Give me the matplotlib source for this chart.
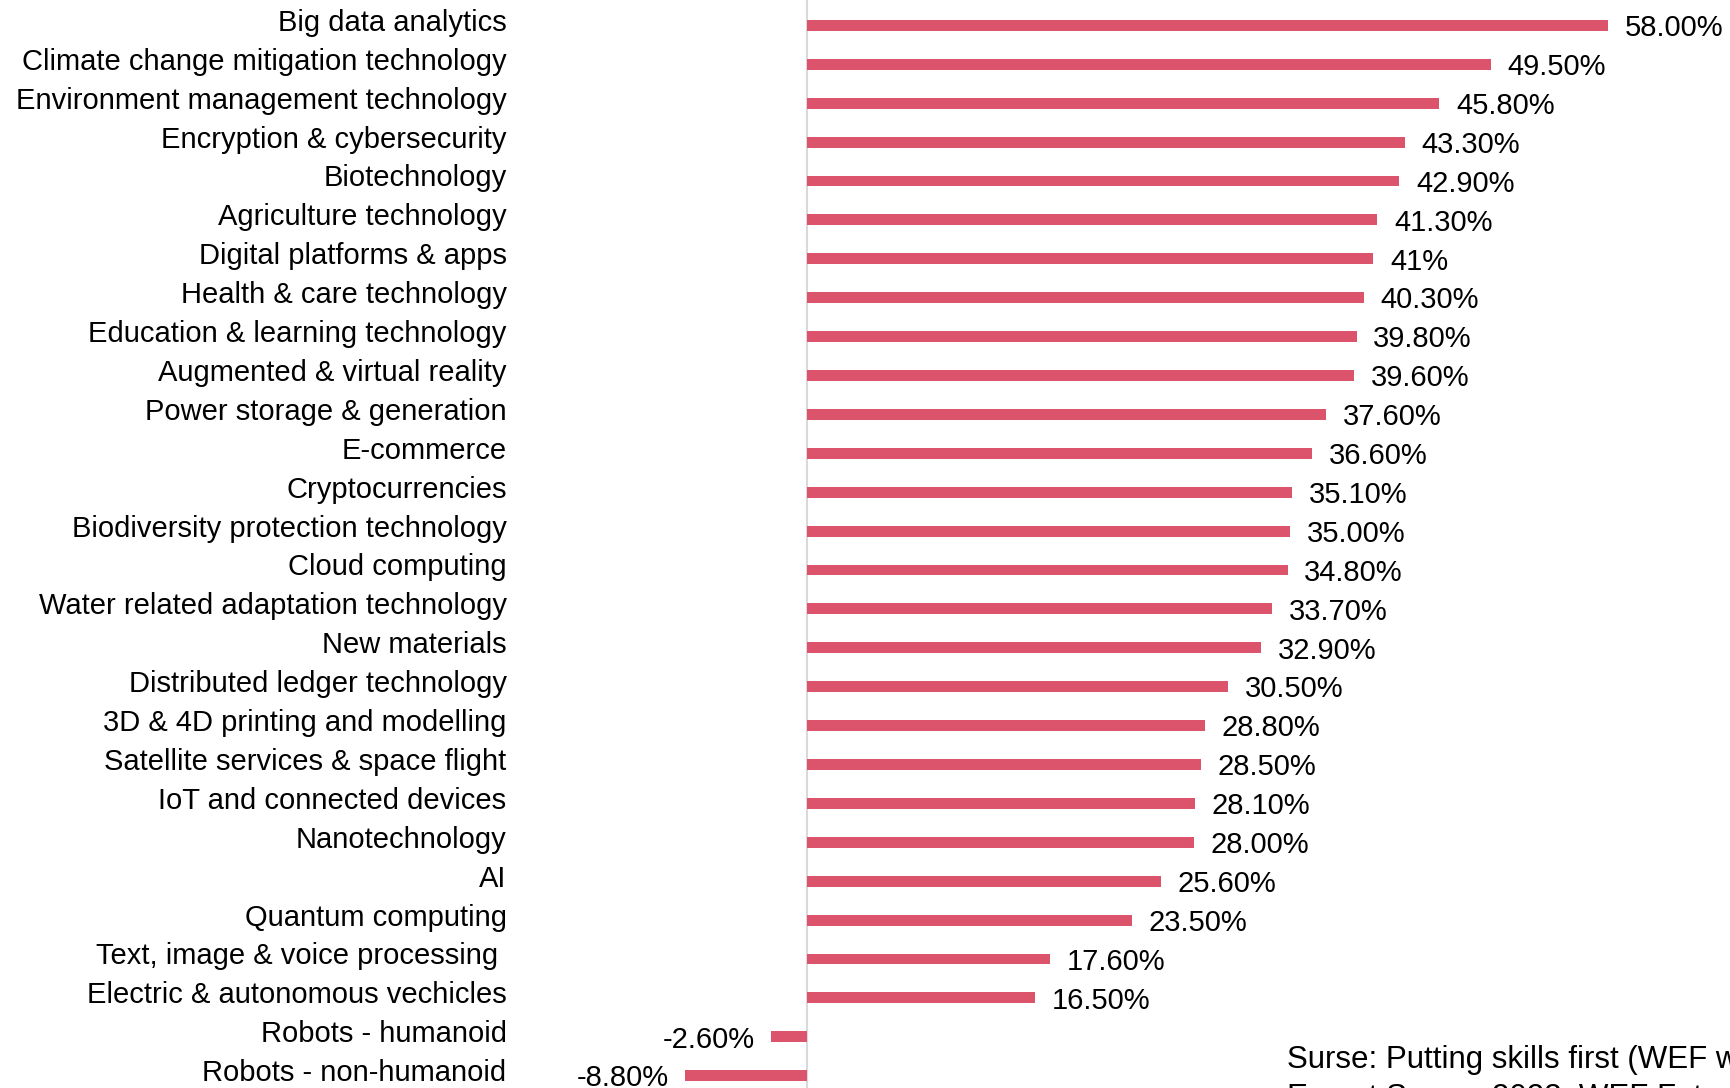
import matplotlib.pyplot as plt
from matplotlib.transforms import offset_copy

plt.rcParams['font.family'] = ['Liberation Sans', 'DejaVu Sans']

categories = [
    'Big data analytics', 'Climate change mitigation technology',
    'Environment management technology', 'Encryption & cybersecurity',
    'Biotechnology', 'Agriculture technology', 'Digital platforms & apps',
    'Health & care technology', 'Education & learning technology',
    'Augmented & virtual reality', 'Power storage & generation', 'E-commerce',
    'Cryptocurrencies', 'Biodiversity protection technology', 'Cloud computing',
    'Water related adaptation technology', 'New materials',
    'Distributed ledger technology', '3D & 4D printing and modelling',
    'Satellite services & space flight', 'IoT and connected devices',
    'Nanotechnology', 'AI', 'Quantum computing',
    'Text, image & voice processing ', 'Electric & autonomous vechicles',
    'Robots - humanoid', 'Robots - non-humanoid',
]
values = [58.0, 49.5, 45.8, 43.3, 42.9, 41.3, 41.0, 40.3, 39.8, 39.6, 37.6,
          36.6, 35.1, 35.0, 34.8, 33.7, 32.9, 30.5, 28.8, 28.5, 28.1, 28.0,
          25.6, 23.5, 17.6, 16.5, -2.6, -8.8]
value_labels = ['58.00%', '49.50%', '45.80%', '43.30%', '42.90%', '41.30%',
                '41%', '40.30%', '39.80%', '39.60%', '37.60%', '36.60%',
                '35.10%', '35.00%', '34.80%', '33.70%', '32.90%', '30.50%',
                '28.80%', '28.50%', '28.10%', '28.00%', '25.60%', '23.50%',
                '17.60%', '16.50%', '-2.60%', '-8.80%']
source = ('Surse: Putting skills first (WEF white paper),\n'
          'Expert Survey 2023, WEF Future of Jobs Report 2023')

W, H = 1731, 1088
fig = plt.figure(figsize=(W / 100, H / 100), dpi=100)

# axes placed in pixel terms: x=0 at 807px, 13.81 px per percent
left_px = 558
ax = fig.add_axes([left_px / W, 0, 1 - left_px / W, 1])
ppu = 13.81
ax.set_xlim((left_px - 807) / ppu, (W - 807) / ppu)
step = 38.9
ax.set_ylim((H - 25.4) / step, -25.4 / step)

n = len(categories)
ypos = list(range(n))
ax.barh(ypos, values, height=0.28, color='#dc546b', zorder=2)
ax.axvline(0, color='#d9d9d9', lw=1.5, zorder=1)

for y, v, lab in zip(ypos, values, value_labels):
    if v >= 0:
        ax.annotate(lab, (v, y), xytext=(12, -2), textcoords='offset points',
                    ha='left', va='center', fontsize=21)
    else:
        ax.annotate(lab, (v, y), xytext=(-12, -2), textcoords='offset points',
                    ha='right', va='center', fontsize=21)

ax.set_yticks(ypos)
ax.set_yticklabels(categories, fontsize=21)
ax.tick_params(axis='y', length=0, pad=37)
for lab in ax.get_yticklabels():
    lab.set_transform(offset_copy(lab.get_transform(), fig=fig, y=4, units='points'))
ax.set_xticks([])
for s in ax.spines.values():
    s.set_visible(False)

fig.text(1287 / W, 1 - 1045 / H, source, fontsize=22.5, va='top', ha='left',
         linespacing=1.35)

fig.savefig('out.png', dpi=100)
